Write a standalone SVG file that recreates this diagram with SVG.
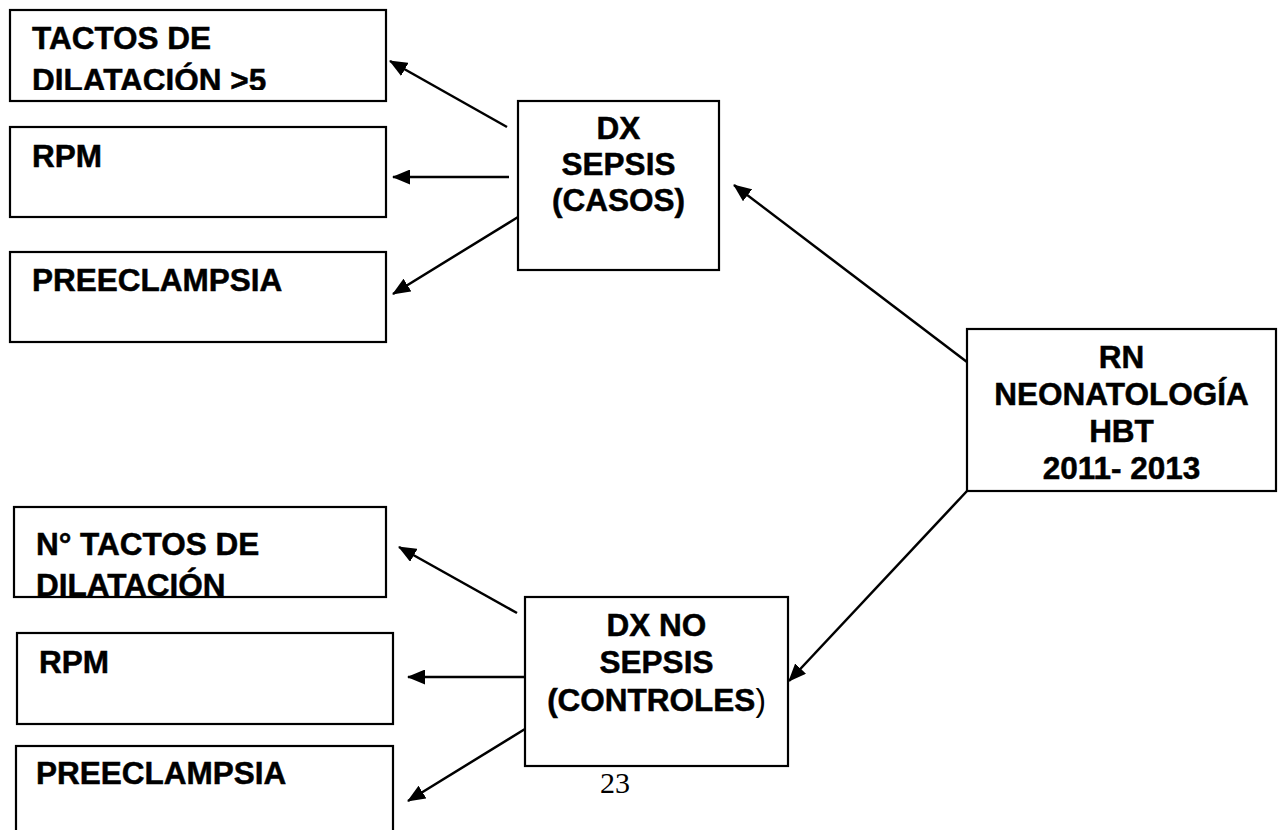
<svg xmlns="http://www.w3.org/2000/svg" width="1279" height="830" viewBox="0 0 1279 830">
<style>
.box{fill:#fff;stroke:#000;stroke-width:2.2}
.t{font-family:"Liberation Sans",Arial,sans-serif;font-weight:bold;font-size:31.5px;fill:#000;stroke:#000;stroke-width:0.5}
.c{text-anchor:middle}
.conn{stroke:#000;stroke-width:2.5;fill:none;marker-end:url(#ah)}
.pg{font-family:"Liberation Serif","Times New Roman",serif;font-size:30px;fill:#000}
</style>
<defs>
<marker id="ah" markerUnits="userSpaceOnUse" markerWidth="18" markerHeight="15" refX="17" refY="7.5" orient="auto">
<path d="M0,0 L18,7.5 L0,15 z" fill="#000"/>
</marker>
<clipPath id="clip1"><rect x="10" y="10" width="376" height="80"/></clipPath>
<clipPath id="clip4"><rect x="14" y="507" width="372" height="89"/></clipPath>
</defs>
<g id="connectors">
<path class="conn" d="M507,127 L390,61"/>
<path class="conn" d="M509,177 L393,177"/>
<path class="conn" d="M518,217 L393,294"/>
<path class="conn" d="M967,362 L734,185"/>
<path class="conn" d="M967,491 L789,681"/>
<path class="conn" d="M517,613 L399,547"/>
<path class="conn" d="M525,677 L408,677"/>
<path class="conn" d="M525,729 L408,801"/>
</g>
<g id="n-tactos">
<rect class="box" x="10" y="10" width="376" height="91"/>
<g clip-path="url(#clip1)">
<text class="t" x="32" y="49">TACTOS DE</text>
<text class="t" x="32" y="90.5">DILATACIÓN &gt;5</text>
</g>
</g>
<g id="n-rpm">
<rect class="box" x="10" y="127" width="376" height="90"/>
<text class="t" x="32" y="167">RPM</text>
</g>
<g id="n-preeclampsia">
<rect class="box" x="10" y="252" width="376" height="90"/>
<text class="t" x="32" y="291">PREECLAMPSIA</text>
</g>
<g id="n-dx-sepsis">
<rect class="box" x="518" y="101" width="201" height="169"/>
<text class="t c" x="618.5" y="139">DX</text>
<text class="t c" x="618.5" y="175">SEPSIS</text>
<text class="t c" x="618.5" y="211">(CASOS)</text>
</g>
<g id="n-rn">
<rect class="box" x="967" y="329" width="309" height="162"/>
<text class="t c" x="1121.5" y="368">RN</text>
<text class="t c" x="1121.5" y="405">NEONATOLOGÍA</text>
<text class="t c" x="1121.5" y="442">HBT</text>
<text class="t c" x="1121.5" y="479">2011- 2013</text>
</g>
<g id="n-tactos2">
<rect class="box" x="14" y="507" width="372" height="90"/>
<g clip-path="url(#clip4)">
<text class="t" x="36" y="555">N° TACTOS DE</text>
<text class="t" x="36" y="596">DILATACIÓN</text>
</g>
</g>
<g id="n-rpm2">
<rect class="box" x="17" y="633" width="376" height="91"/>
<text class="t" x="39" y="673">RPM</text>
</g>
<g id="n-preeclampsia2">
<rect class="box" x="16" y="746" width="377" height="100"/>
<text class="t" x="36" y="784">PREECLAMPSIA</text>
</g>
<g id="n-dx-no-sepsis">
<rect class="box" x="525" y="597" width="263" height="169"/>
<text class="t c" x="656.5" y="636">DX NO</text>
<text class="t c" x="656.5" y="673">SEPSIS</text>
<text class="t c" x="656.5" y="711">(CONTROLES<tspan font-weight="normal" stroke-width="0">)</tspan></text>
</g>
<text class="pg" x="600" y="793">23</text>
</svg>
